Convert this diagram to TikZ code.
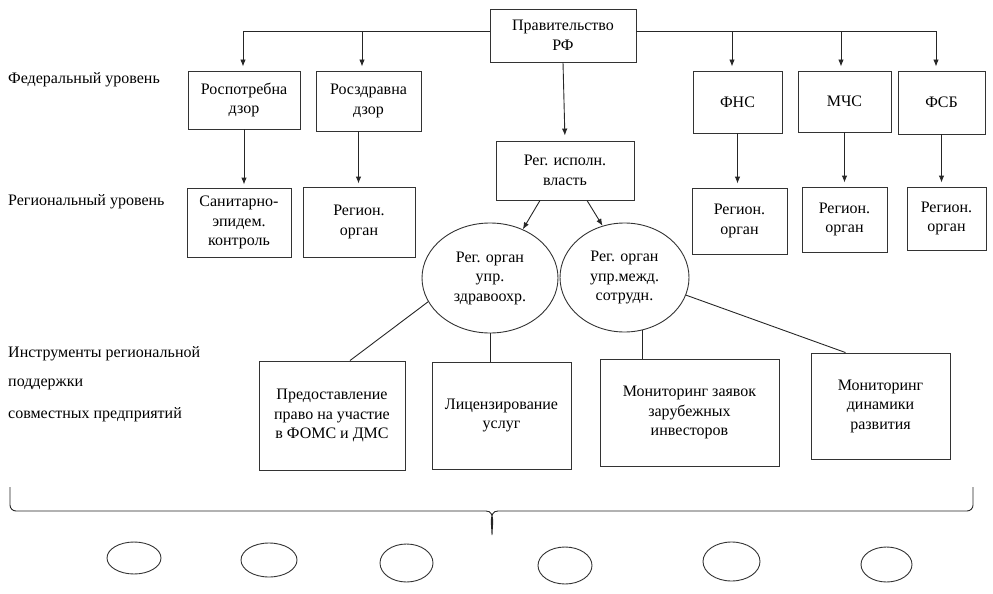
\documentclass[tikz,border=0pt]{standalone}
\usepackage{fontspec}
\setmainfont{Liberation Serif}
\usetikzlibrary{shapes.geometric,arrows.meta}
\begin{document}
\begin{tikzpicture}[x=1pt,y=-1pt]
      \tikzset{
        every node/.style={font=\fontsize{16}{19.5}\selectfont,align=center,inner sep=0pt},
        box/.style={rectangle,draw=black!80,line width=0.9pt},
        oval/.style={ellipse,draw=black!80,line width=0.9pt},
        lbl/.style={anchor=west},
        arr/.style={-{Latex[length=7pt,width=5.5pt]},draw=black!85,line width=0.9pt},
        lnk/.style={draw=black!85,line width=0.9pt}
      }
      \useasboundingbox (0,0) rectangle (993,594);

      \node[lbl] (fed) at (8,80) {Федеральный уровень};
      \node[lbl] (reg) at (8,202) {Региональный уровень};
      \node[lbl] (ins1) at (8,354) {Инструменты региональной};
      \node[lbl] (ins2) at (8,384) {поддержки};
      \node[lbl] (ins3) at (8,415) {совместных предприятий};

      \node[box,minimum width=146,minimum height=53] (gov) at (563,35.5) {Правительство\\РФ};
      \node[box,minimum width=112,minimum height=58] (rpn) at (244,100) {Роспотребна\\дзор};
      \node[box,minimum width=105,minimum height=60] (rzn) at (368.5,101) {Росздравна\\дзор};
      \node[box,minimum width=89,minimum height=62] (fns) at (737.5,102) {ФНС};
      \node[box,minimum width=93,minimum height=61] (mchs) at (844.5,101.5) {МЧС};
      \node[box,minimum width=87,minimum height=63] (fsb) at (941.5,102.5) {ФСБ};

      \node[box,minimum width=104,minimum height=69] (sen) at (239,222.5) {Санитарно-\\эпидем.\\контроль};
      \node[box,minimum width=112,minimum height=70] (rg1) at (359,222) {Регион.\\орган};
      \node[box,minimum width=138,minimum height=59] (exec) at (565,170.5) {Рег. исполн.\\власть};
      \node[box,minimum width=95,minimum height=66] (rg2) at (739.5,221) {Регион.\\орган};
      \node[box,minimum width=85,minimum height=65] (rg3) at (844.5,219.5) {Регион.\\орган};
      \node[box,minimum width=79,minimum height=63] (rg4) at (946.5,218.5) {Регион.\\орган};

      \node[oval,minimum width=136,minimum height=110] (zdr) at (490,278) {Рег. орган\\упр.\\здравоохр.};
      \node[oval,minimum width=129,minimum height=109] (mzd) at (624.5,277.5) {Рег. орган\\упр.межд.\\сотрудн.};

      \node[box,minimum width=146,minimum height=109] (pred) at (332,415.5) {Предоставление\\право на участие\\в ФОМС и ДМС};
      \node[box,minimum width=139,minimum height=107] (lic) at (501.5,415.5) {Лицензирование\\услуг};
      \node[box,minimum width=179,minimum height=107] (monz) at (689.5,412.5) {Мониторинг заявок\\зарубежных\\инвесторов};
      \node[box,minimum width=139,minimum height=106] (mond) at (880.5,406) {Мониторинг\\динамики\\развития};

      % top level
      \draw[arr,shorten >=4pt] ([yshift=4.5pt]gov.west) -| ([xshift=-1pt]rpn.north);
      \draw[arr,shorten >=4pt] ([yshift=4.5pt]gov.west) -| ([xshift=-6.5pt]rzn.north);
      \draw[arr,shorten >=4pt] ([yshift=4.5pt]gov.east) -| ([xshift=-5.5pt]fns.north);
      \draw[arr,shorten >=4pt] ([yshift=4.5pt]gov.east) -| ([xshift=-3.5pt]mchs.north);
      \draw[arr,shorten >=4pt] ([yshift=4.5pt]gov.east) -| ([xshift=-5.5pt]fsb.north);
      \draw[arr,shorten >=5pt] (gov.south) -- (exec.north);

      % regional level
      \draw[arr,shorten >=3pt] (rpn.south) -- (rpn.south |- sen.north);
      \draw[arr,shorten >=3pt] ([xshift=-10pt]rzn.south) -- ([xshift=-10pt]rzn.south |- rg1.north);
      \draw[arr,shorten >=4pt] (fns.south) -- (fns.south |- rg2.north);
      \draw[arr,shorten >=4pt] (mchs.south) -- (mchs.south |- rg3.north);
      \draw[arr,shorten >=4pt] (fsb.south) -- (fsb.south |- rg4.north);
      \draw[arr] ([xshift=-25pt]exec.south) -- (zdr.56);
      \draw[arr] ([xshift=22pt]exec.south) -- (mzd.113);

      % instruments
      \draw[lnk] (zdr.201) -- ([xshift=18pt]pred.north);
      \draw[lnk] (zdr.south) -- (zdr.south |- lic.north);
      \draw[lnk] (mzd.289) -- (mzd.289 |- monz.north);
      \draw[lnk] (mzd.344) -- ([xshift=-35pt]mond.north);

      % brace
      \draw[lnk] (10,487) -- (10,505) to[out=-90,in=180] (16,511) -- (486,511)
            to[out=0,in=90] (492,535) to[out=90,in=180] (498,511) -- (967,511)
            to[out=0,in=-90] (973,505) -- (973,487);

      \foreach \x/\y/\w/\h [count=\i] in {134/558/54/32, 269/560/56/34, 406.5/563/53/38,
                                           565/565.5/54/37, 731.5/561.5/57/39, 886.5/564.5/51/35}
        \node[oval,minimum width=\w,minimum height=\h] (e\i) at (\x,\y) {};
    \end{tikzpicture}
\end{document}
